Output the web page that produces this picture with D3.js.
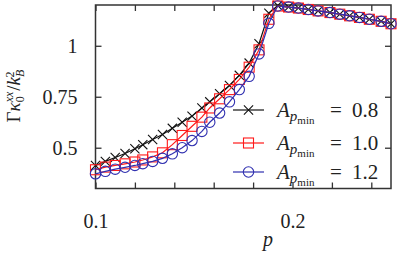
<!DOCTYPE html>
<html>
<head>
<meta charset="utf-8">
<script src="https://cdn.jsdelivr.net/npm/d3@7"></script>
<style>
  body { margin: 0; background: #fff; }
  svg text { font-family: "Liberation Serif", "DejaVu Serif", serif; fill: #222; }
</style>
</head>
<body>
<div id="chart"></div>
<script>
// p values (shared by all three runs)
const pVals = [0.100, 0.105, 0.110, 0.115, 0.120, 0.124, 0.129, 0.134, 0.139, 0.144,
               0.149, 0.154, 0.158, 0.163, 0.168, 0.173, 0.178, 0.183, 0.188, 0.1925,
               0.198, 0.203, 0.208, 0.213, 0.219, 0.224, 0.229, 0.234, 0.239, 0.245, 0.250];

// Gamma kappa_0^xx / k_B^2 for each A_pmin
const kappa08 = [0.413, 0.433, 0.452, 0.472, 0.495, 0.515, 0.540, 0.565, 0.595, 0.625,
                 0.655, 0.695, 0.725, 0.765, 0.805, 0.855, 0.915, 1.010, 1.160, 1.197,
                 1.190, 1.185, 1.178, 1.171, 1.163, 1.155, 1.147, 1.139, 1.130, 1.120, 1.108];
const kappa10 = [0.392, 0.405, 0.413, 0.421, 0.430, 0.440, 0.455, 0.475, 0.515, 0.560,
                 0.605, 0.650, 0.695, 0.740, 0.785, 0.835, 0.895, 0.980, 1.130, 1.195,
                 1.190, 1.185, 1.178, 1.171, 1.163, 1.155, 1.147, 1.139, 1.130, 1.120, 1.108];
const kappa12 = [0.372, 0.384, 0.395, 0.404, 0.413, 0.422, 0.433, 0.448, 0.470, 0.500,
                 0.535, 0.580, 0.625, 0.670, 0.725, 0.785, 0.850, 0.960, 1.110, 1.195,
                 1.190, 1.185, 1.178, 1.171, 1.163, 1.155, 1.147, 1.139, 1.130, 1.120, 1.108];

const seriesNames = ["0.8", "1.0", "1.2"];
const seriesColors = ["#111111", "#ff1a1a", "#3030b0"];
const seriesShapes = ["cross", "square", "circle"];

const xTicks = [0.10, 0.12, 0.14, 0.16, 0.18, 0.20, 0.22, 0.24];
const xTickLabels = {"0.1": "0.1", "0.2": "0.2"};
const yTicks = [0.5, 0.75, 1];
const yTickLabels = ["0.5", "0.75", "1"];

const W = 398, H = 255;
const serif = "Liberation Serif, DejaVu Serif, serif";
const x = d3.scaleLinear().domain([0.1, 0.25]).range([95.5, 391]);
const y = d3.scaleLinear().domain([0.3, 1.2]).range([188.5, 5]);

const svg = d3.select("#chart").append("svg")
    .attr("width", W).attr("height", H);

const frameColor = "#333";
const tick = 6;

// bottom axis with labels
svg.append("g")
    .attr("transform", `translate(0,${y.range()[0]})`)
    .call(d3.axisBottom(x).tickValues(xTicks).tickSize(-tick).tickPadding(25)
        .tickFormat(d => xTickLabels[String(+d.toFixed(2))] || ""))
    .attr("font-family", serif)
    .call(g => g.select(".domain").remove())
    .call(g => g.selectAll("line").attr("stroke", frameColor).attr("stroke-width", 1.3))
    .call(g => g.selectAll("text").attr("font-size", 20).attr("fill", "#222"));

// top mirror ticks
svg.append("g")
    .attr("transform", `translate(0,${y.range()[1]})`)
    .call(d3.axisTop(x).tickValues(xTicks).tickSize(-tick).tickFormat(""))
    .call(g => g.select(".domain").remove())
    .call(g => g.selectAll("line").attr("stroke", frameColor).attr("stroke-width", 1.3));

// left axis with labels
svg.append("g")
    .attr("transform", `translate(${x.range()[0]},0)`)
    .call(d3.axisLeft(y).tickValues(yTicks).tickSize(-tick).tickPadding(18)
        .tickFormat((d, i) => yTickLabels[i]))
    .attr("font-family", serif)
    .call(g => g.select(".domain").remove())
    .call(g => g.selectAll("line").attr("stroke", frameColor).attr("stroke-width", 1.3))
    .call(g => g.selectAll("text").attr("font-size", 20).attr("fill", "#222"));

// right mirror ticks
svg.append("g")
    .attr("transform", `translate(${x.range()[1]},0)`)
    .call(d3.axisRight(y).tickValues(yTicks).tickSize(-tick).tickFormat(""))
    .call(g => g.select(".domain").remove())
    .call(g => g.selectAll("line").attr("stroke", frameColor).attr("stroke-width", 1.3));

// frame
svg.append("rect")
    .attr("x", x.range()[0]).attr("y", y.range()[1])
    .attr("width", x.range()[1] - x.range()[0])
    .attr("height", y.range()[0] - y.range()[1])
    .attr("fill", "none").attr("stroke", frameColor).attr("stroke-width", 1.5);

function drawMarker(g, shape, color, cx, cy) {
    if (shape === "cross") {
        const s = 4.6;
        g.append("path")
            .attr("d", `M${cx - s},${cy - s}L${cx + s},${cy + s}M${cx - s},${cy + s}L${cx + s},${cy - s}`)
            .attr("stroke", color).attr("stroke-width", 1.1).attr("fill", "none");
    } else if (shape === "square") {
        const s = 5;
        g.append("rect").attr("x", cx - s).attr("y", cy - s).attr("width", 2 * s).attr("height", 2 * s)
            .attr("stroke", color).attr("stroke-width", 1.1).attr("fill", "none");
    } else {
        g.append("circle").attr("cx", cx).attr("cy", cy).attr("r", 5.2)
            .attr("stroke", color).attr("stroke-width", 1.1).attr("fill", "none");
    }
}

const allSeries = [kappa08, kappa10, kappa12];
const line = d3.line().x(d => x(d[0])).y(d => y(d[1]));
const plot = svg.append("g");

allSeries.forEach((vals, i) => {
    const pts = pVals.map((p, j) => [p, vals[j]]);
    plot.append("path").datum(pts)
        .attr("d", line).attr("fill", "none")
        .attr("stroke", seriesColors[i]).attr("stroke-width", 1.2);
    pts.forEach(d => drawMarker(plot, seriesShapes[i], seriesColors[i], x(d[0]), y(d[1])));
});

// legend
const legY = [110, 143, 172];
seriesNames.forEach((name, i) => {
    const lg = svg.append("g");
    lg.append("line").attr("x1", 233).attr("x2", 264).attr("y1", legY[i]).attr("y2", legY[i])
        .attr("stroke", seriesColors[i]).attr("stroke-width", 1.2);
    drawMarker(lg, seriesShapes[i], seriesColors[i], 248.5, legY[i]);
    const t = lg.append("text").attr("x", 277).attr("y", legY[i] + 7).attr("font-size", 21)
        .attr("font-family", serif);
    t.append("tspan").attr("font-style", "italic").text("A");
    t.append("tspan").attr("font-style", "italic").attr("font-size", 15).attr("dy", 4).text("p");
    t.append("tspan").attr("font-size", 11).attr("dy", 3).text("min");
    t.append("tspan").attr("x", 330).attr("dy", -7).text("=");
    t.append("tspan").attr("x", 352).text(name);
});

// axis titles
svg.append("text")
    .attr("x", x(0.1875)).attr("y", 246)
    .attr("text-anchor", "middle").attr("font-size", 20).attr("font-style", "italic")
    .attr("font-family", serif)
    .text("p");

const yl = svg.append("text")
    .attr("transform", "translate(20,96) rotate(-90)")
    .attr("text-anchor", "middle").attr("font-size", 19)
    .attr("font-family", serif);
yl.append("tspan").text("Γ");
yl.append("tspan").attr("font-style", "italic").text("κ");
yl.append("tspan").attr("font-size", 12).attr("dy", 4).text("0");
yl.append("tspan").attr("font-size", 12).attr("font-style", "italic").attr("dx", -6).attr("dy", -11).text("xx");
yl.append("tspan").attr("dx", 1).attr("dy", 7).text("/");
yl.append("tspan").attr("font-style", "italic").text("k");
yl.append("tspan").attr("font-size", 12).attr("font-style", "italic").attr("dy", 4).text("B");
yl.append("tspan").attr("font-size", 12).attr("dx", -8).attr("dy", -10).text("2");
</script>
</body>
</html>
